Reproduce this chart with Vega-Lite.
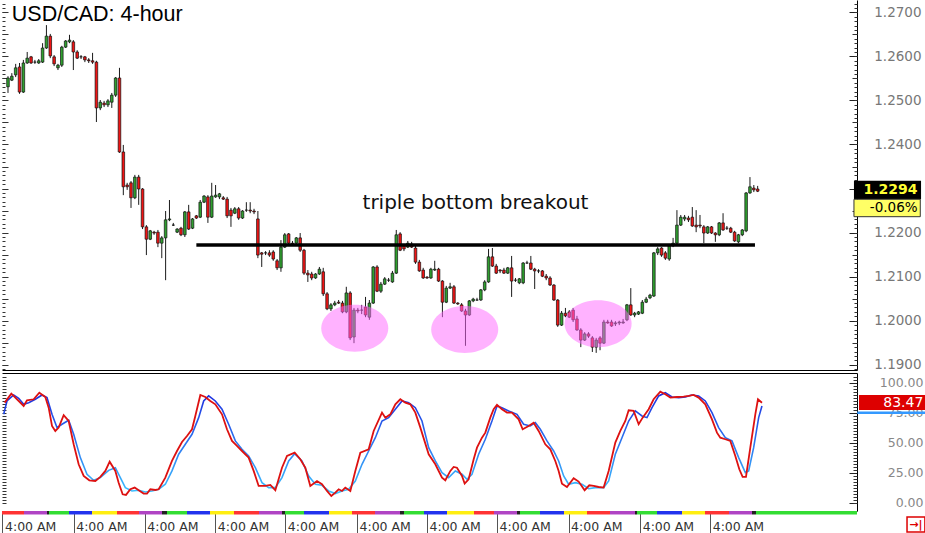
{
"$schema": "https://vega.github.io/schema/vega-lite/v6.json",
"padding": 0,
"background": "white",
"spacing": 1,
"config": {"view": {"stroke": null}, "axis": {"grid": false, "title": null, "labelFont": "DejaVu Sans"}, "font": "DejaVu Sans"},
"datasets": {
"ohlc": [
{"i":0,"o":1.2531,"h":1.2555,"l":1.2517,"c":1.2551},{"i":1,"o":1.2546,"h":1.2562,"l":1.2544,"c":1.2555},{"i":2,"o":1.2558,"h":1.2583,"l":1.2553,"c":1.2574},{"i":3,"o":1.2576,"h":1.2585,"l":1.2515,"c":1.2519},{"i":4,"o":1.2519,"h":1.2592,"l":1.2517,"c":1.2585},{"i":5,"o":1.2585,"h":1.2610,"l":1.2583,"c":1.2596},{"i":6,"o":1.2599,"h":1.2601,"l":1.2583,"c":1.2585},{"i":7,"o":1.2587,"h":1.2592,"l":1.2583,"c":1.2587},{"i":8,"o":1.2585,"h":1.2594,"l":1.2583,"c":1.2590},
{"i":9,"o":1.2587,"h":1.2630,"l":1.2585,"c":1.2619},{"i":10,"o":1.2619,"h":1.2671,"l":1.2617,"c":1.2646},{"i":11,"o":1.2646,"h":1.2651,"l":1.2596,"c":1.2601},{"i":12,"o":1.2599,"h":1.2603,"l":1.2578,"c":1.2583},{"i":13,"o":1.2574,"h":1.2583,"l":1.2569,"c":1.2580},{"i":14,"o":1.2580,"h":1.2624,"l":1.2576,"c":1.2621},{"i":15,"o":1.2621,"h":1.2637,"l":1.2619,"c":1.2635},{"i":16,"o":1.2633,"h":1.2649,"l":1.2630,"c":1.2637},{"i":17,"o":1.2633,"h":1.2637,"l":1.2569,"c":1.2610},{"i":18,"o":1.2610,"h":1.2614,"l":1.2594,"c":1.2596},
{"i":19,"o":1.2599,"h":1.2603,"l":1.2594,"c":1.2599},{"i":20,"o":1.2599,"h":1.2601,"l":1.2587,"c":1.2592},{"i":21,"o":1.2592,"h":1.2596,"l":1.2585,"c":1.2590},{"i":22,"o":1.2590,"h":1.2608,"l":1.2583,"c":1.2587},{"i":23,"o":1.2587,"h":1.2590,"l":1.2451,"c":1.2483},{"i":24,"o":1.2483,"h":1.2501,"l":1.2478,"c":1.2496},{"i":25,"o":1.2494,"h":1.2499,"l":1.2485,"c":1.2490},{"i":26,"o":1.2490,"h":1.2503,"l":1.2485,"c":1.2499},{"i":27,"o":1.2496,"h":1.2517,"l":1.2483,"c":1.2512},{"i":28,"o":1.2512,"h":1.2553,"l":1.2508,"c":1.2551},
{"i":29,"o":1.2551,"h":1.2574,"l":1.2381,"c":1.2383},{"i":30,"o":1.2383,"h":1.2399,"l":1.2285,"c":1.2304},{"i":31,"o":1.2308,"h":1.2313,"l":1.2297,"c":1.2304},{"i":32,"o":1.2313,"h":1.2317,"l":1.2256,"c":1.2279},{"i":33,"o":1.2279,"h":1.2331,"l":1.2276,"c":1.2326},{"i":34,"o":1.2326,"h":1.2331,"l":1.2263,"c":1.2299},{"i":35,"o":1.2299,"h":1.2301,"l":1.2208,"c":1.2213},{"i":36,"o":1.2213,"h":1.2217,"l":1.2149,"c":1.2185},{"i":37,"o":1.2185,"h":1.2206,"l":1.2183,"c":1.2204},{"i":38,"o":1.2201,"h":1.2204,"l":1.2195,"c":1.2199},
{"i":39,"o":1.2201,"h":1.2206,"l":1.2167,"c":1.2176},{"i":40,"o":1.2176,"h":1.2192,"l":1.2142,"c":1.2188},{"i":41,"o":1.2188,"h":1.2249,"l":1.2092,"c":1.2229},{"i":42,"o":1.2229,"h":1.2274,"l":1.2226,"c":1.2231},{"i":43,"o":1.2217,"h":1.2222,"l":1.2215,"c":1.2217},{"i":44,"o":1.2201,"h":1.2210,"l":1.2199,"c":1.2208},{"i":45,"o":1.2210,"h":1.2213,"l":1.2192,"c":1.2195},{"i":46,"o":1.2195,"h":1.2249,"l":1.2190,"c":1.2247},{"i":47,"o":1.2247,"h":1.2263,"l":1.2206,"c":1.2208},{"i":48,"o":1.2210,"h":1.2233,"l":1.2208,"c":1.2231},
{"i":49,"o":1.2238,"h":1.2240,"l":1.2231,"c":1.2233},{"i":50,"o":1.2235,"h":1.2274,"l":1.2233,"c":1.2269},{"i":51,"o":1.2269,"h":1.2285,"l":1.2267,"c":1.2283},{"i":52,"o":1.2281,"h":1.2285,"l":1.2222,"c":1.2235},{"i":53,"o":1.2235,"h":1.2313,"l":1.2233,"c":1.2283},{"i":54,"o":1.2281,"h":1.2308,"l":1.2279,"c":1.2285},{"i":55,"o":1.2281,"h":1.2290,"l":1.2276,"c":1.2288},{"i":56,"o":1.2279,"h":1.2283,"l":1.2274,"c":1.2276},{"i":57,"o":1.2276,"h":1.2281,"l":1.2233,"c":1.2238},{"i":58,"o":1.2251,"h":1.2256,"l":1.2213,"c":1.2238},
{"i":59,"o":1.2244,"h":1.2258,"l":1.2242,"c":1.2254},{"i":60,"o":1.2254,"h":1.2258,"l":1.2229,"c":1.2233},{"i":61,"o":1.2233,"h":1.2251,"l":1.2231,"c":1.2249},{"i":62,"o":1.2251,"h":1.2269,"l":1.2247,"c":1.2251},{"i":63,"o":1.2251,"h":1.2269,"l":1.2244,"c":1.2249},{"i":64,"o":1.2249,"h":1.2254,"l":1.2242,"c":1.2247},{"i":65,"o":1.2231,"h":1.2249,"l":1.2142,"c":1.2149},{"i":66,"o":1.2154,"h":1.2156,"l":1.2122,"c":1.2151},{"i":67,"o":1.2154,"h":1.2158,"l":1.2149,"c":1.2154},{"i":68,"o":1.2154,"h":1.2160,"l":1.2145,"c":1.2149},
{"i":69,"o":1.2156,"h":1.2160,"l":1.2136,"c":1.2140},{"i":70,"o":1.2136,"h":1.2140,"l":1.2115,"c":1.2120},{"i":71,"o":1.2120,"h":1.2183,"l":1.2111,"c":1.2167},{"i":72,"o":1.2167,"h":1.2199,"l":1.2165,"c":1.2195},{"i":73,"o":1.2197,"h":1.2199,"l":1.2174,"c":1.2176},{"i":74,"o":1.2176,"h":1.2181,"l":1.2170,"c":1.2174},{"i":75,"o":1.2176,"h":1.2190,"l":1.2172,"c":1.2188},{"i":76,"o":1.2188,"h":1.2199,"l":1.2156,"c":1.2160},{"i":77,"o":1.2160,"h":1.2163,"l":1.2104,"c":1.2108},{"i":78,"o":1.2108,"h":1.2115,"l":1.2088,"c":1.2104},
{"i":79,"o":1.2106,"h":1.2111,"l":1.2092,"c":1.2097},{"i":80,"o":1.2097,"h":1.2108,"l":1.2095,"c":1.2106},{"i":81,"o":1.2106,"h":1.2122,"l":1.2104,"c":1.2117},{"i":82,"o":1.2111,"h":1.2120,"l":1.2056,"c":1.2061},{"i":83,"o":1.2061,"h":1.2065,"l":1.2024,"c":1.2027},{"i":84,"o":1.2027,"h":1.2040,"l":1.2022,"c":1.2036},{"i":85,"o":1.2036,"h":1.2045,"l":1.2033,"c":1.2040},{"i":86,"o":1.2042,"h":1.2047,"l":1.2038,"c":1.2040},{"i":87,"o":1.2040,"h":1.2045,"l":1.2017,"c":1.2020},{"i":88,"o":1.2020,"h":1.2077,"l":1.2017,"c":1.2063},
{"i":89,"o":1.2063,"h":1.2067,"l":1.1956,"c":1.1961},{"i":90,"o":1.1963,"h":1.2029,"l":1.1949,"c":1.2024},{"i":91,"o":1.2024,"h":1.2029,"l":1.2017,"c":1.2022},{"i":92,"o":1.2024,"h":1.2036,"l":1.2015,"c":1.2024},{"i":93,"o":1.2031,"h":1.2054,"l":1.2008,"c":1.2013},{"i":94,"o":1.2008,"h":1.2047,"l":1.2002,"c":1.2040},{"i":95,"o":1.2040,"h":1.2124,"l":1.2038,"c":1.2122},{"i":96,"o":1.2122,"h":1.2126,"l":1.2065,"c":1.2067},{"i":97,"o":1.2067,"h":1.2088,"l":1.2063,"c":1.2083},{"i":98,"o":1.2083,"h":1.2099,"l":1.2081,"c":1.2095},
{"i":99,"o":1.2092,"h":1.2097,"l":1.2088,"c":1.2092},{"i":100,"o":1.2088,"h":1.2113,"l":1.2086,"c":1.2108},{"i":101,"o":1.2108,"h":1.2206,"l":1.2106,"c":1.2195},{"i":102,"o":1.2197,"h":1.2201,"l":1.2158,"c":1.2160},{"i":103,"o":1.2170,"h":1.2174,"l":1.2158,"c":1.2163},{"i":104,"o":1.2167,"h":1.2181,"l":1.2165,"c":1.2176},{"i":105,"o":1.2174,"h":1.2179,"l":1.2165,"c":1.2167},{"i":106,"o":1.2165,"h":1.2170,"l":1.2129,"c":1.2133},{"i":107,"o":1.2133,"h":1.2138,"l":1.2111,"c":1.2113},{"i":108,"o":1.2115,"h":1.2120,"l":1.2095,"c":1.2097},
{"i":109,"o":1.2099,"h":1.2101,"l":1.2095,"c":1.2097},{"i":110,"o":1.2097,"h":1.2120,"l":1.2095,"c":1.2117},{"i":111,"o":1.2115,"h":1.2136,"l":1.2113,"c":1.2117},{"i":112,"o":1.2117,"h":1.2120,"l":1.2088,"c":1.2090},{"i":113,"o":1.2090,"h":1.2092,"l":1.2008,"c":1.2042},{"i":114,"o":1.2042,"h":1.2079,"l":1.2040,"c":1.2074},{"i":115,"o":1.2074,"h":1.2086,"l":1.2072,"c":1.2077},{"i":116,"o":1.2077,"h":1.2081,"l":1.2038,"c":1.2040},{"i":117,"o":1.2040,"h":1.2042,"l":1.2036,"c":1.2038},{"i":118,"o":1.2036,"h":1.2040,"l":1.2020,"c":1.2022},
{"i":119,"o":1.2022,"h":1.2027,"l":1.1943,"c":1.2013},{"i":120,"o":1.2013,"h":1.2047,"l":1.2011,"c":1.2045},{"i":121,"o":1.2045,"h":1.2052,"l":1.2042,"c":1.2049},{"i":122,"o":1.2047,"h":1.2052,"l":1.2045,"c":1.2047},{"i":123,"o":1.2047,"h":1.2072,"l":1.2045,"c":1.2070},{"i":124,"o":1.2070,"h":1.2092,"l":1.2067,"c":1.2088},{"i":125,"o":1.2088,"h":1.2163,"l":1.2086,"c":1.2145},{"i":126,"o":1.2145,"h":1.2165,"l":1.2122,"c":1.2124},{"i":127,"o":1.2124,"h":1.2129,"l":1.2106,"c":1.2108},{"i":128,"o":1.2115,"h":1.2117,"l":1.2108,"c":1.2113},
{"i":129,"o":1.2115,"h":1.2120,"l":1.2106,"c":1.2108},{"i":130,"o":1.2108,"h":1.2122,"l":1.2106,"c":1.2120},{"i":131,"o":1.2120,"h":1.2147,"l":1.2054,"c":1.2090},{"i":132,"o":1.2092,"h":1.2097,"l":1.2088,"c":1.2092},{"i":133,"o":1.2086,"h":1.2097,"l":1.2083,"c":1.2095},{"i":134,"o":1.2086,"h":1.2133,"l":1.2083,"c":1.2131},{"i":135,"o":1.2131,"h":1.2136,"l":1.2129,"c":1.2131},{"i":136,"o":1.2131,"h":1.2147,"l":1.2115,"c":1.2117},{"i":137,"o":1.2117,"h":1.2120,"l":1.2072,"c":1.2113},{"i":138,"o":1.2113,"h":1.2117,"l":1.2108,"c":1.2113},
{"i":139,"o":1.2113,"h":1.2115,"l":1.2099,"c":1.2101},{"i":140,"o":1.2101,"h":1.2106,"l":1.2092,"c":1.2097},{"i":141,"o":1.2097,"h":1.2101,"l":1.2079,"c":1.2081},{"i":142,"o":1.2081,"h":1.2083,"l":1.2045,"c":1.2047},{"i":143,"o":1.2047,"h":1.2049,"l":1.1986,"c":1.1990},{"i":144,"o":1.1990,"h":1.2022,"l":1.1988,"c":1.2017},{"i":145,"o":1.2017,"h":1.2029,"l":1.2008,"c":1.2011},{"i":146,"o":1.2020,"h":1.2024,"l":1.2006,"c":1.2008},{"i":147,"o":1.2024,"h":1.2029,"l":1.1997,"c":1.2002},{"i":148,"o":1.2004,"h":1.2011,"l":1.1977,"c":1.1979},
{"i":149,"o":1.1979,"h":1.1983,"l":1.1940,"c":1.1956},{"i":150,"o":1.1956,"h":1.1974,"l":1.1954,"c":1.1970},{"i":151,"o":1.1970,"h":1.1974,"l":1.1961,"c":1.1965},{"i":152,"o":1.1961,"h":1.1965,"l":1.1929,"c":1.1940},{"i":153,"o":1.1940,"h":1.1961,"l":1.1927,"c":1.1956},{"i":154,"o":1.1961,"h":1.1965,"l":1.1933,"c":1.1949},{"i":155,"o":1.1949,"h":1.2002,"l":1.1947,"c":1.1997},{"i":156,"o":1.1997,"h":1.2002,"l":1.1993,"c":1.1995},{"i":157,"o":1.1997,"h":1.2002,"l":1.1986,"c":1.1988},{"i":158,"o":1.1993,"h":1.1999,"l":1.1988,"c":1.1995},
{"i":159,"o":1.1995,"h":1.2000,"l":1.1990,"c":1.1997},{"i":160,"o":1.1995,"h":1.2004,"l":1.1993,"c":1.1997},{"i":161,"o":1.2002,"h":1.2038,"l":1.1999,"c":1.2036},{"i":162,"o":1.2036,"h":1.2074,"l":1.2011,"c":1.2013},{"i":163,"o":1.2013,"h":1.2020,"l":1.2008,"c":1.2017},{"i":164,"o":1.2015,"h":1.2022,"l":1.2013,"c":1.2020},{"i":165,"o":1.2017,"h":1.2047,"l":1.2015,"c":1.2042},{"i":166,"o":1.2042,"h":1.2054,"l":1.2040,"c":1.2049},{"i":167,"o":1.2052,"h":1.2061,"l":1.2049,"c":1.2058},{"i":168,"o":1.2056,"h":1.2156,"l":1.2054,"c":1.2154},{"i":169,"o":1.2154,"h":1.2167,"l":1.2149,"c":1.2163},
{"i":170,"o":1.2165,"h":1.2167,"l":1.2145,"c":1.2149},{"i":171,"o":1.2154,"h":1.2158,"l":1.2138,"c":1.2142},{"i":172,"o":1.2140,"h":1.2172,"l":1.2136,"c":1.2170},{"i":173,"o":1.2170,"h":1.2188,"l":1.2167,"c":1.2176},{"i":174,"o":1.2176,"h":1.2251,"l":1.2174,"c":1.2217},{"i":175,"o":1.2217,"h":1.2240,"l":1.2215,"c":1.2235},{"i":176,"o":1.2231,"h":1.2240,"l":1.2226,"c":1.2235},{"i":177,"o":1.2233,"h":1.2238,"l":1.2224,"c":1.2229},{"i":178,"o":1.2235,"h":1.2258,"l":1.2213,"c":1.2215},{"i":179,"o":1.2217,"h":1.2251,"l":1.2201,"c":1.2213},
{"i":180,"o":1.2217,"h":1.2240,"l":1.2210,"c":1.2215},{"i":181,"o":1.2213,"h":1.2217,"l":1.2176,"c":1.2199},{"i":182,"o":1.2199,"h":1.2215,"l":1.2197,"c":1.2213},{"i":183,"o":1.2213,"h":1.2215,"l":1.2197,"c":1.2199},{"i":184,"o":1.2199,"h":1.2201,"l":1.2179,"c":1.2195},{"i":185,"o":1.2195,"h":1.2224,"l":1.2192,"c":1.2222},{"i":186,"o":1.2222,"h":1.2244,"l":1.2204,"c":1.2206},{"i":187,"o":1.2210,"h":1.2215,"l":1.2206,"c":1.2210},{"i":188,"o":1.2210,"h":1.2213,"l":1.2199,"c":1.2201},{"i":189,"o":1.2201,"h":1.2204,"l":1.2179,"c":1.2181},
{"i":190,"o":1.2179,"h":1.2197,"l":1.2176,"c":1.2195},{"i":191,"o":1.2195,"h":1.2208,"l":1.2192,"c":1.2206},{"i":192,"o":1.2204,"h":1.2292,"l":1.2201,"c":1.2290},{"i":193,"o":1.2290,"h":1.2326,"l":1.2288,"c":1.2304},{"i":194,"o":1.2301,"h":1.2308,"l":1.2292,"c":1.2297},{"i":195,"o":1.2299,"h":1.2306,"l":1.2292,"c":1.2294}
],
"stochK": [
{"i":0.43,"v":83.6},{"i":2.14,"v":91.1},{"i":5.31,"v":80.8},{"i":6.17,"v":85.6},{"i":7.88,"v":86.4},{"i":9.34,"v":91.9},{"i":10.88,"v":88.3},{"i":11.74,"v":79.4},{"i":12.6,"v":64.2},{"i":13.45,"v":60},{"i":14.31,"v":62.8},{"i":15.6,"v":73.1},{"i":16.88,"v":68.3},{"i":18.17,"v":48.9},{"i":19.45,"v":32.2},{"i":20.74,"v":22.5},{"i":22.19,"v":18.9},{"i":23.74,"v":18.3},{"i":25.02,"v":21.7},{"i":26.31,"v":26.7},{"i":27.42,"v":34.4},{"i":28.88,"v":26.7},{"i":29.73,"v":16.9},{"i":30.76,"v":7.2},{"i":31.62,"v":6.7},{"i":32.73,"v":11.4},{"i":33.85,"v":12.8},{"i":34.88,"v":10.6},{"i":36.16,"v":7.8},{"i":37.02,"v":7.8},{"i":37.88,"v":11.4},{"i":39.16,"v":10.8},{"i":40.02,"v":11.4},{"i":41.73,"v":21.1},{"i":43.44,"v":35},{"i":44.73,"v":43.3},{"i":46.02,"v":50.8},{"i":47.3,"v":55.8},{"i":48.59,"v":61.4},{"i":49.44,"v":72.5},{"i":50.73,"v":90},{"i":52.01,"v":88.3},{"i":53.3,"v":85},{"i":54.58,"v":82.2},{"i":56.3,"v":73.9},{"i":57.58,"v":61.4},{"i":58.87,"v":51.7},{"i":60.15,"v":47.5},{"i":61.44,"v":43.3},{"i":63.15,"v":37.8},{"i":64.44,"v":26.7},{"i":65.72,"v":14.2},{"i":67.44,"v":14.2},{"i":68.72,"v":15},{"i":70.01,"v":10.6},{"i":71.72,"v":29.4},{"i":73.01,"v":39.2},{"i":74.98,"v":41.9},{"i":76.43,"v":36.4},{"i":77.72,"v":29.4},{"i":79.0,"v":14.2},{"i":80.72,"v":18.3},{"i":82.0,"v":15.6},{"i":83.29,"v":10},{"i":84.4,"v":5.8},{"i":85.43,"v":8.6},{"i":86.29,"v":11.4},{"i":87.15,"v":10},{"i":88.0,"v":12.8},{"i":89.29,"v":10},{"i":90.57,"v":26.7},{"i":91.86,"v":41.9},{"i":94.0,"v":44.7},{"i":95.29,"v":60},{"i":97.43,"v":75.3},{"i":98.29,"v":71.1},{"i":99.57,"v":73.9},{"i":100.86,"v":82.2},{"i":102.14,"v":86.4},{"i":103.43,"v":83.6},{"i":104.71,"v":82.2},{"i":106.0,"v":75.3},{"i":107.29,"v":62.8},{"i":109.43,"v":40.6},{"i":111.14,"v":32.2},{"i":112.86,"v":21.1},{"i":113.71,"v":18.9},{"i":115.0,"v":26.7},{"i":115.85,"v":30},{"i":116.7,"v":29.4},{"i":118.0,"v":22.5},{"i":118.68,"v":16.1},{"i":119.7,"v":19.7},{"i":121.0,"v":36.4},{"i":121.85,"v":46.1},{"i":123.13,"v":54.4},{"i":123.99,"v":58.6},{"i":125.27,"v":71.1},{"i":126.13,"v":78.1},{"i":126.99,"v":81.7},{"i":128.27,"v":78.1},{"i":129.56,"v":75.3},{"i":130.84,"v":75.3},{"i":132.56,"v":69.7},{"i":133.59,"v":61.4},{"i":135.13,"v":64.2},{"i":136.41,"v":66.9},{"i":137.7,"v":60},{"i":139.41,"v":48.9},{"i":140.7,"v":44.7},{"i":141.98,"v":35},{"i":142.84,"v":26.7},{"i":143.7,"v":16.1},{"i":144.98,"v":13.3},{"i":146.7,"v":20.6},{"i":147.98,"v":17.8},{"i":149.52,"v":10.6},{"i":150.72,"v":14.7},{"i":151.84,"v":14.2},{"i":153.12,"v":13.3},{"i":154.41,"v":12.8},{"i":155.7,"v":26.7},{"i":157.41,"v":50.3},{"i":158.69,"v":60},{"i":159.98,"v":68.3},{"i":160.84,"v":77.2},{"i":162.12,"v":76.7},{"i":163.41,"v":65.6},{"i":164.44,"v":71.1},{"i":165.98,"v":78.1},{"i":167.26,"v":86.4},{"i":168.98,"v":92.8},{"i":170.26,"v":90.6},{"i":171.55,"v":87.8},{"i":173.26,"v":88.3},{"i":174.97,"v":88.6},{"i":176.26,"v":89.2},{"i":177.54,"v":90},{"i":178.83,"v":87.8},{"i":180.54,"v":82.2},{"i":182.26,"v":69.7},{"i":183.54,"v":58.6},{"i":184.4,"v":54.4},{"i":185.69,"v":53.1},{"i":186.97,"v":51.7},{"i":188.26,"v":39.2},{"i":189.29,"v":28.1},{"i":190.14,"v":21.7},{"i":191.0,"v":21.7},{"i":192.11,"v":46.1},{"i":193.4,"v":73.9},{"i":194.08,"v":86.4},{"i":195.11,"v":83.47}
],
"stochD": [
{"i":0.17,"v":73.9},{"i":1.03,"v":85},{"i":2.74,"v":90},{"i":4.03,"v":87.2},{"i":5.31,"v":82.2},{"i":6.6,"v":83.6},{"i":8.31,"v":86.4},{"i":10.03,"v":90},{"i":11.31,"v":87.8},{"i":12.6,"v":73.9},{"i":13.88,"v":62.8},{"i":15.17,"v":65.6},{"i":16.88,"v":68.9},{"i":18.17,"v":57.2},{"i":19.88,"v":37.8},{"i":21.59,"v":23.9},{"i":23.31,"v":18.9},{"i":25.02,"v":21.1},{"i":27.16,"v":27.2},{"i":28.88,"v":29.4},{"i":30.16,"v":21.1},{"i":31.45,"v":12.8},{"i":33.16,"v":10},{"i":34.88,"v":10.6},{"i":36.59,"v":9.2},{"i":38.3,"v":10},{"i":40.02,"v":11.4},{"i":41.73,"v":15.6},{"i":43.44,"v":26.7},{"i":45.16,"v":40.6},{"i":46.87,"v":48.9},{"i":48.59,"v":57.2},{"i":50.3,"v":71.1},{"i":51.59,"v":85},{"i":52.87,"v":89.2},{"i":54.58,"v":85},{"i":56.3,"v":78.1},{"i":58.01,"v":65.6},{"i":59.73,"v":51.7},{"i":61.44,"v":44.7},{"i":63.15,"v":39.2},{"i":64.87,"v":29.4},{"i":66.58,"v":16.9},{"i":68.29,"v":12.8},{"i":70.01,"v":12.8},{"i":71.72,"v":21.1},{"i":73.44,"v":35},{"i":74.98,"v":41.1},{"i":76.86,"v":35},{"i":78.58,"v":22.5},{"i":80.29,"v":15.6},{"i":82.0,"v":14.7},{"i":83.72,"v":10},{"i":85.43,"v":7.8},{"i":87.15,"v":10},{"i":88.86,"v":11.4},{"i":90.57,"v":18.3},{"i":92.29,"v":32.2},{"i":94.0,"v":43.3},{"i":95.72,"v":54.4},{"i":97.43,"v":68.3},{"i":99.14,"v":71.1},{"i":100.86,"v":78.1},{"i":102.57,"v":85},{"i":104.28,"v":83.6},{"i":106.0,"v":79.4},{"i":107.71,"v":68.3},{"i":109.43,"v":46.1},{"i":111.14,"v":35},{"i":112.86,"v":25.3},{"i":114.57,"v":21.1},{"i":116.28,"v":26.7},{"i":118.0,"v":23.9},{"i":119.28,"v":19.7},{"i":120.56,"v":23.9},{"i":122.27,"v":40.6},{"i":123.99,"v":53.1},{"i":125.7,"v":68.3},{"i":126.99,"v":80.8},{"i":128.27,"v":79.4},{"i":129.99,"v":76.7},{"i":132.13,"v":73.9},{"i":133.84,"v":65.6},{"i":135.56,"v":64.2},{"i":136.84,"v":66.9},{"i":138.13,"v":61.4},{"i":139.84,"v":51.7},{"i":141.56,"v":43.3},{"i":142.84,"v":35},{"i":144.13,"v":22.5},{"i":145.41,"v":15.6},{"i":147.12,"v":16.9},{"i":148.84,"v":15.6},{"i":150.55,"v":11.9},{"i":152.27,"v":12.8},{"i":154.41,"v":12.8},{"i":155.7,"v":18.3},{"i":157.41,"v":40.6},{"i":159.12,"v":54.4},{"i":160.84,"v":68.3},{"i":162.55,"v":76.7},{"i":164.27,"v":72.5},{"i":165.55,"v":71.1},{"i":166.84,"v":79.4},{"i":168.55,"v":89.2},{"i":170.26,"v":91.9},{"i":171.98,"v":88.3},{"i":173.69,"v":87.8},{"i":175.4,"v":88.3},{"i":177.12,"v":90},{"i":178.83,"v":89.2},{"i":180.54,"v":85},{"i":182.26,"v":75.3},{"i":183.97,"v":62.8},{"i":185.69,"v":54.4},{"i":187.4,"v":51.7},{"i":189.12,"v":37.8},{"i":190.83,"v":25.3},{"i":191.69,"v":26.7},{"i":192.97,"v":46.1},{"i":194.26,"v":71.1},{"i":195.11,"v":80.8}
],
"sessions": [
{"day":"Thu","s":-0.26,"e":5.4},{"day":"Fri","s":5.4,"e":11.31},{"day":"Sun","s":11.31,"e":11.83},{"day":"Mon","s":11.83,"e":16.97},{"day":"Tue","s":16.97,"e":22.88},{"day":"Wed","s":22.88,"e":29.31},{"day":"Thu","s":29.31,"e":34.96},{"day":"Fri","s":34.96,"e":40.87},{"day":"Sun","s":40.87,"e":42.16},{"day":"Mon","s":42.16,"e":47.3},{"day":"Tue","s":47.3,"e":53.21},{"day":"Wed","s":53.21,"e":59.38},{"day":"Thu","s":59.38,"e":65.81},{"day":"Fri","s":65.81,"e":71.72},{"day":"Sun","s":71.72,"e":72.49},{"day":"Mon","s":72.49,"e":77.38},{"day":"Tue","s":77.38,"e":83.8},{"day":"Wed","s":83.8,"e":89.72},{"day":"Thu","s":89.72,"e":95.63},{"day":"Fri","s":95.63,"e":102.06},{"day":"Sun","s":102.06,"e":103.08},{"day":"Mon","s":103.08,"e":108.23},{"day":"Tue","s":108.23,"e":114.14},{"day":"Wed","s":114.14,"e":121.08},{"day":"Thu","s":121.08,"e":126.22},{"day":"Fri","s":126.22,"e":132.13},{"day":"Sun","s":132.13,"e":132.9},{"day":"Mon","s":132.9,"e":138.05},{"day":"Tue","s":138.05,"e":144.22},{"day":"Wed","s":144.22,"e":150.13},{"day":"Thu","s":150.13,"e":156.04},{"day":"Fri","s":156.04,"e":162.47},{"day":"Sun","s":162.47,"e":162.98},{"day":"Mon","s":162.98,"e":168.12},{"day":"Tue","s":168.12,"e":174.55},{"day":"Wed","s":174.55,"e":180.46},{"day":"Thu","s":180.46,"e":186.63},{"day":"Fri","s":186.63,"e":192.54},{"day":"Sun","s":192.54,"e":193.57},{"day":"Mon","s":193.57,"e":219.54}
],
"levels": [{"from":49.0,"to":194.3,"p":1.2172}],
"zones": [{"i":90.2,"p":1.1983},{"i":118.8,"p":1.1980},{"i":153.5,"p":1.1993}],
"notes": [{"i":121.6,"p":1.2254,"label":"triple bottom breakout"}],
"titles": [{"i":1.0,"p":1.2681,"label":"USD/CAD: 4-hour"}],
"tags": [{"last":1.2294,"chg":"-0.06%"}],
"tagK": [{"v":83.47}]
},
"vconcat": [
{
"width": 855, "height": 370,
"resolve": {"axis": {"x": "independent", "y": "independent"}},
"layer": [
{"data": {"name": "ohlc"}, "mark": {"type": "rule", "color": "#1a1a1a", "strokeWidth": 1, "clip": true},
 "encoding": {
  "x": {"field": "i", "type": "quantitative", "scale": {"domain": [-0.257, 219.54], "nice": false, "zero": false}, "axis": {"orient": "bottom", "labels": false, "ticks": false, "domain": true, "domainColor": "#000", "domainWidth": 1.2, "title": null}},
  "y": {"field": "l", "type": "quantitative", "scale": {"domain": [1.18881, 1.2728], "nice": false, "zero": false}, "axis": {"orient": "right", "values": [1.19, 1.2, 1.21, 1.22, 1.24, 1.25, 1.26, 1.27], "format": ".4f", "ticks": false, "domain": true, "domainColor": "#000", "labelAlign": "right", "labelBaseline": "middle", "labelPadding": 64, "labelColor": "#777", "labelFontSize": 13.5, "labelOverlap": false, "labelFlush": false, "labelBound": false, "title": null}},
  "y2": {"field": "h"}
 }},
{"data": {"name": "ohlc"}, "mark": {"type": "bar", "width": 2.6, "stroke": "#111", "strokeWidth": 0.7, "clip": true},
 "encoding": {
  "x": {"field": "i", "type": "quantitative", "scale": {"domain": [-0.257, 219.54], "nice": false, "zero": false}, "axis": null},
  "y": {"field": "o", "type": "quantitative", "scale": {"domain": [1.18881, 1.2728], "nice": false, "zero": false}, "axis": {"orient": "right", "values": [1.19, 1.2, 1.21, 1.22, 1.23, 1.24, 1.25, 1.26, 1.27], "labels": false, "domain": false, "ticks": true, "tickSize": -8, "tickColor": "#222", "title": null}},
  "y2": {"field": "c"},
  "color": {"condition": {"test": "datum.c >= datum.o", "value": "#2f9f2f"}, "value": "#f01414"}
 }},
{"data": {"name": "levels"}, "mark": {"type": "rule", "color": "#000", "strokeWidth": 3.5},
 "encoding": {
  "x": {"field": "from", "type": "quantitative", "scale": {"domain": [-0.257, 219.54], "nice": false, "zero": false}, "axis": null},
  "x2": {"field": "to"},
  "y": {"field": "p", "type": "quantitative", "scale": {"domain": [1.18881, 1.2728], "nice": false, "zero": false}, "axis": {"orient": "right", "values": [1.189,1.19,1.191,1.192,1.193,1.194,1.195,1.196,1.197,1.198,1.199,1.2,1.201,1.202,1.203,1.204,1.205,1.206,1.207,1.208,1.209,1.21,1.211,1.212,1.213,1.214,1.215,1.216,1.217,1.218,1.219,1.22,1.221,1.222,1.223,1.224,1.225,1.226,1.227,1.228,1.229,1.23,1.231,1.232,1.233,1.234,1.235,1.236,1.237,1.238,1.239,1.24,1.241,1.242,1.243,1.244,1.245,1.246,1.247,1.248,1.249,1.25,1.251,1.252,1.253,1.254,1.255,1.256,1.257,1.258,1.259,1.26,1.261,1.262,1.263,1.264,1.265,1.266,1.267,1.268,1.269,1.27,1.271,1.272], "labels": false, "domain": false, "ticks": true, "tickSize": -3, "tickColor": "#333", "title": null}}
 }},
{"data": {"name": "zones"}, "mark": {"type": "point", "shape": "M-1,0A1,0.7,0,1,1,1,0A1,0.7,0,1,1,-1,0Z", "filled": true, "color": "#ff66ff", "opacity": 0.5, "size": 4489, "strokeWidth": 0},
 "encoding": {
  "x": {"field": "i", "type": "quantitative", "scale": {"domain": [-0.257, 219.54], "nice": false, "zero": false}, "axis": null},
  "y": {"field": "p", "type": "quantitative", "scale": {"domain": [1.18881, 1.2728], "nice": false, "zero": false}, "axis": {"orient": "left", "values": [1.189,1.19,1.191,1.192,1.193,1.194,1.195,1.196,1.197,1.198,1.199,1.2,1.201,1.202,1.203,1.204,1.205,1.206,1.207,1.208,1.209,1.21,1.211,1.212,1.213,1.214,1.215,1.216,1.217,1.218,1.219,1.22,1.221,1.222,1.223,1.224,1.225,1.226,1.227,1.228,1.229,1.23,1.231,1.232,1.233,1.234,1.235,1.236,1.237,1.238,1.239,1.24,1.241,1.242,1.243,1.244,1.245,1.246,1.247,1.248,1.249,1.25,1.251,1.252,1.253,1.254,1.255,1.256,1.257,1.258,1.259,1.26,1.261,1.262,1.263,1.264,1.265,1.266,1.267,1.268,1.269,1.27,1.271,1.272], "labels": false, "domain": false, "ticks": true, "tickSize": -3, "tickColor": "#333", "title": null}}
 }},
{"data": {"name": "notes"}, "mark": {"type": "text", "font": "DejaVu Sans", "fontSize": 20, "color": "#111", "align": "center", "baseline": "alphabetic"},
 "encoding": {
  "x": {"field": "i", "type": "quantitative", "scale": {"domain": [-0.257, 219.54], "nice": false, "zero": false}, "axis": null},
  "y": {"field": "p", "type": "quantitative", "scale": {"domain": [1.18881, 1.2728], "nice": false, "zero": false}, "axis": {"orient": "left", "values": [1.19,1.195,1.2,1.205,1.21,1.215,1.22,1.225,1.23,1.235,1.24,1.245,1.25,1.255,1.26,1.265,1.27], "labels": false, "domain": false, "ticks": true, "tickSize": -6, "tickColor": "#333", "title": null}},
  "text": {"field": "label"}
 }},
{"data": {"name": "titles"}, "mark": {"type": "text", "font": "Liberation Sans", "fontSize": 21.5, "color": "#000", "align": "left", "baseline": "alphabetic"},
 "encoding": {
  "x": {"field": "i", "type": "quantitative", "scale": {"domain": [-0.257, 219.54], "nice": false, "zero": false}, "axis": null},
  "y": {"field": "p", "type": "quantitative", "scale": {"domain": [1.18881, 1.2728], "nice": false, "zero": false}, "axis": {"orient": "right", "values": [1.195,1.205,1.215,1.225,1.235,1.245,1.255,1.265], "labels": false, "domain": false, "ticks": true, "tickSize": -5, "tickColor": "#333", "title": null}},
  "text": {"field": "label"}
 }},
{"data": {"name": "tags"}, "mark": {"type": "rect", "fill": "#000"},
 "encoding": {
  "x": {"datum": 220.05, "type": "quantitative", "scale": {"domain": [-0.257, 219.54], "nice": false, "zero": false}, "axis": null},
  "x2": {"datum": 237.5},
  "y": {"datum": 1.23178, "type": "quantitative", "scale": {"domain": [1.18881, 1.2728], "nice": false, "zero": false}, "axis": null},
  "y2": {"datum": 1.22756}
 }},
{"data": {"name": "tags"}, "mark": {"type": "rect", "fill": "#ffff66", "stroke": "#333", "strokeWidth": 1},
 "encoding": {
  "x": {"datum": 220.05, "type": "quantitative", "scale": {"domain": [-0.257, 219.54], "nice": false, "zero": false}, "axis": null},
  "x2": {"datum": 237.3},
  "y": {"datum": 1.22756, "type": "quantitative", "scale": {"domain": [1.18881, 1.2728], "nice": false, "zero": false}, "axis": null},
  "y2": {"datum": 1.22361}
 }},
{"data": {"name": "tags"}, "mark": {"type": "text", "font": "DejaVu Sans", "fontWeight": "bold", "fontSize": 14, "color": "#ffff33", "align": "right", "baseline": "middle", "dy": -1},
 "encoding": {
  "x": {"datum": 236.6, "type": "quantitative", "scale": {"domain": [-0.257, 219.54], "nice": false, "zero": false}, "axis": null},
  "y": {"field": "last", "type": "quantitative", "scale": {"domain": [1.18881, 1.2728], "nice": false, "zero": false}, "axis": null},
  "text": {"field": "last", "type": "quantitative", "format": ".4f"}
 }},
{"data": {"name": "tags"}, "mark": {"type": "text", "font": "DejaVu Sans", "fontSize": 13.5, "color": "#000", "align": "right", "baseline": "middle"},
 "encoding": {
  "x": {"datum": 236.6, "type": "quantitative", "scale": {"domain": [-0.257, 219.54], "nice": false, "zero": false}, "axis": null},
  "y": {"datum": 1.22558, "type": "quantitative", "scale": {"domain": [1.18881, 1.2728], "nice": false, "zero": false}, "axis": null},
  "text": {"field": "chg"}
 }}
]
},
{
"width": 855, "height": 138,
"resolve": {"axis": {"x": "independent", "y": "independent"}},
"layer": [
{"data": {"name": "stochD"}, "mark": {"type": "line", "strokeWidth": 1.6, "stroke": {"gradient": "linear", "x1": 0, "y1": 0, "x2": 0, "y2": 1, "stops": [{"offset": 0, "color": "#1e2ee0"}, {"offset": 1, "color": "#3cc0ff"}]}},
 "encoding": {
  "x": {"field": "i", "type": "quantitative", "scale": {"domain": [-0.257, 219.54], "nice": false, "zero": false}, "axis": {"orient": "top", "labels": false, "ticks": false, "domain": true, "domainColor": "#000", "domainWidth": 1.2, "title": null}},
  "y": {"field": "v", "type": "quantitative", "scale": {"domain": [-6.7, 108.3], "nice": false, "zero": false}, "axis": {"orient": "right", "values": [0, 25, 50, 75, 100], "labels": false, "domain": false, "ticks": true, "tickSize": -8, "tickColor": "#222", "title": null}}
 }},
{"data": {"name": "stochK"}, "mark": {"type": "line", "color": "#dd1111", "strokeWidth": 1.8},
 "encoding": {
  "x": {"field": "i", "type": "quantitative", "scale": {"domain": [-0.257, 219.54], "nice": false, "zero": false}, "axis": {"orient": "bottom", "values": [-0.13, 18.17, 36.43, 54.58, 72.57, 91.0, 109.0, 127.0, 145.4, 163.8, 181.8], "labelExpr": "'4:00 AM'", "ticks": true, "tickSize": 23, "tickColor": "#555", "tickWidth": 1, "domain": true, "domainColor": "#888", "labelAlign": "left", "labelBaseline": "alphabetic", "labelPadding": -3.5, "labelOffset": 2, "labelFontSize": 12.5, "labelColor": "#333", "labelFlush": false, "labelOverlap": false, "labelBound": false, "title": null}},
  "y": {"field": "v", "type": "quantitative", "scale": {"domain": [-6.7, 108.3], "nice": false, "zero": false}, "axis": {"orient": "right", "values": [0, 25, 50, 75, 100], "format": ".2f", "ticks": false, "domain": true, "domainColor": "#000", "labelAlign": "right", "labelBaseline": "middle", "labelPadding": 66, "labelColor": "#888", "labelFontSize": 12.5, "labelOverlap": false, "labelFlush": false, "labelBound": false, "title": null}}
 }},
{"data": {"name": "sessions"}, "mark": {"type": "rect"},
 "encoding": {
  "x": {"field": "s", "type": "quantitative", "scale": {"domain": [-0.257, 219.54], "nice": false, "zero": false}, "axis": null},
  "x2": {"field": "e"},
  "y": {"datum": -6.7, "type": "quantitative", "scale": {"domain": [-6.7, 108.3], "nice": false, "zero": false}, "axis": {"orient": "right", "values": [0,2.5,5,7.5,10,12.5,15,17.5,20,22.5,27.5,30,32.5,35,37.5,40,42.5,45,47.5,52.5,55,57.5,60,62.5,65,67.5,70,72.5,77.5,80,82.5,85,87.5,90,92.5,95,97.5,102.5,105], "labels": false, "domain": false, "ticks": true, "tickSize": -4, "tickColor": "#333", "title": null}},
  "y2": {"datum": -9.6},
  "color": {"field": "day", "type": "nominal", "scale": {"domain": ["Mon", "Tue", "Wed", "Thu", "Fri", "Sun"], "range": ["#33dd33", "#2233ee", "#ffee11", "#ff3333", "#b044c4", "#222222"]}, "legend": null}
 }},
{"data": {"name": "tagK"}, "mark": {"type": "rect", "fill": "#dd0000"},
 "encoding": {
  "x": {"datum": 220.05, "type": "quantitative", "scale": {"domain": [-0.257, 219.54], "nice": false, "zero": false}, "axis": null},
  "x2": {"datum": 237.5},
  "y": {"datum": 90, "type": "quantitative", "scale": {"domain": [-6.7, 108.3], "nice": false, "zero": false}, "axis": {"orient": "left", "values": [0,2.5,5,7.5,10,12.5,15,17.5,20,22.5,25,27.5,30,32.5,35,37.5,40,42.5,45,47.5,50,52.5,55,57.5,60,62.5,65,67.5,70,72.5,75,77.5,80,82.5,85,87.5,90,92.5,95,97.5,100,102.5,105], "labels": false, "domain": false, "ticks": true, "tickSize": -4, "tickColor": "#333", "title": null}},
  "y2": {"datum": 77.5}
 }},
{"data": {"name": "tagK"}, "mark": {"type": "rule", "color": "#3399ff", "strokeWidth": 2.5},
 "encoding": {
  "x": {"datum": 219.6, "type": "quantitative", "scale": {"domain": [-0.257, 219.54], "nice": false, "zero": false}, "axis": null},
  "x2": {"datum": 237.5},
  "y": {"datum": 75.2, "type": "quantitative", "scale": {"domain": [-6.7, 108.3], "nice": false, "zero": false}, "axis": null}
 }},
{"data": {"name": "tagK"}, "mark": {"type": "text", "font": "DejaVu Sans", "fontSize": 14, "color": "#ffffff", "align": "right", "baseline": "middle"},
 "encoding": {
  "x": {"datum": 236.6, "type": "quantitative", "scale": {"domain": [-0.257, 219.54], "nice": false, "zero": false}, "axis": null},
  "y": {"field": "v", "type": "quantitative", "scale": {"domain": [-6.7, 108.3], "nice": false, "zero": false}, "axis": null},
  "text": {"field": "v", "type": "quantitative", "format": ".2f"}
 }},
{"data": {"name": "tagK"}, "mark": {"type": "rect", "fill": "#ffffff", "stroke": "#dd0000", "strokeWidth": 1.5},
 "encoding": {
  "x": {"datum": 232.4, "type": "quantitative", "scale": {"domain": [-0.257, 219.54], "nice": false, "zero": false}, "axis": null},
  "x2": {"datum": 237.0},
  "y": {"datum": -11.7, "type": "quantitative", "scale": {"domain": [-6.7, 108.3], "nice": false, "zero": false}, "axis": null},
  "y2": {"datum": -24.2}
 }},
{"data": {"name": "tagK"}, "mark": {"type": "text", "text": "→|", "font": "DejaVu Sans", "fontWeight": "bold", "fontSize": 11, "color": "#dd0000", "align": "center", "baseline": "middle"},
 "encoding": {
  "x": {"datum": 234.7, "type": "quantitative", "scale": {"domain": [-0.257, 219.54], "nice": false, "zero": false}, "axis": null},
  "y": {"datum": -18, "type": "quantitative", "scale": {"domain": [-6.7, 108.3], "nice": false, "zero": false}, "axis": null}
 }}
]
}
]
}
